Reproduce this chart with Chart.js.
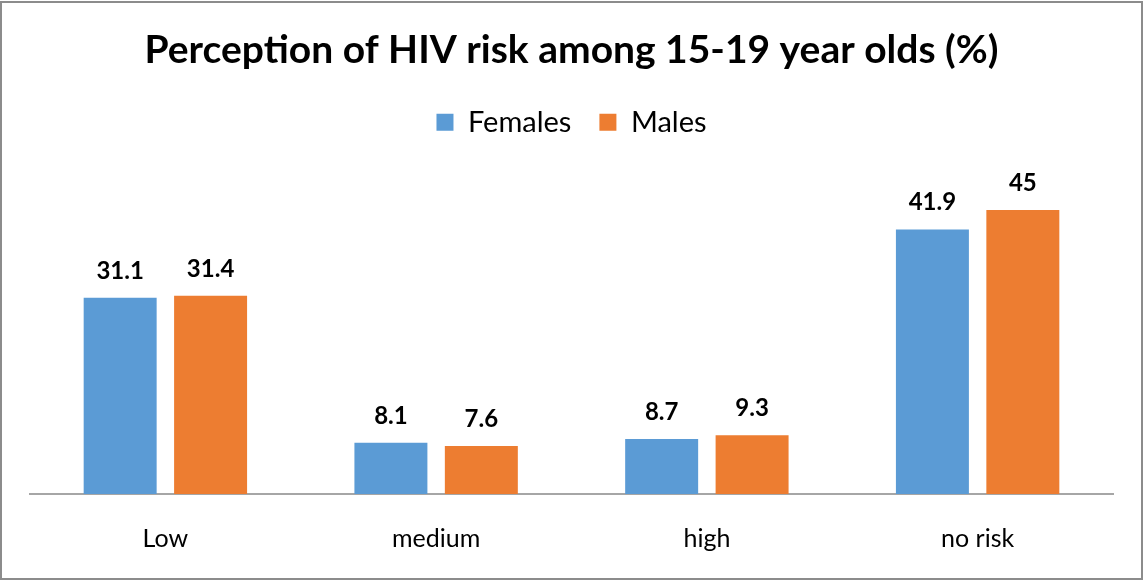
<!DOCTYPE html>
<html>
<head>
<meta charset="utf-8">
<script src="https://cdn.jsdelivr.net/npm/chart.js@4/dist/chart.umd.min.js"></script>
<style>
  html, body { margin: 0; padding: 0; background: #fff; }
  #wrap { position: relative; width: 1144px; height: 581px; }
</style>
</head>
<body>
<div id="wrap"><canvas id="grafico" width="1144" height="581"></canvas></div>
<script>
const categorias = ['Low', 'medium', 'high', 'no risk'];
const femininos = [31.1, 8.1, 8.7, 41.9];
const masculinos = [31.4, 7.6, 9.3, 45];
const tituloGrafico = 'Perception of HIV risk among 15-19 year olds (%)';

const fonte = 'Lato, "Liberation Sans", sans-serif';

// moldura cinza em volta do gráfico
const moldura = {
    id: 'moldura',
    beforeDraw(chart) {
        const c = chart.ctx;
        c.save();
        c.fillStyle = '#fff';
        c.fillRect(0, 0, chart.width, chart.height);
        c.strokeStyle = '#8c8c8c';
        c.lineWidth = 2;
        c.strokeRect(1, 2, chart.width - 3, chart.height - 4);
        c.restore();
    }
};

// rótulos de valor acima das barras
const rotulos = {
    id: 'rotulos',
    afterDatasetsDraw(chart) {
        const c = chart.ctx;
        c.save();
        c.font = 'bold 24px ' + fonte;
        c.fillStyle = '#000';
        c.textAlign = 'center';
        c.textBaseline = 'alphabetic';
        chart.data.datasets.forEach((ds, i) => {
            chart.getDatasetMeta(i).data.forEach((bar, j) => {
                c.fillText(String(ds.data[j]), bar.x, bar.y - 19);
            });
        });
        c.restore();
    }
};

const ctx = document.getElementById('grafico').getContext('2d');
const chart = new Chart(ctx, {
    type: 'bar',
    data: {
        labels: categorias,
        datasets: [{
            label: 'Females',
            data: femininos,
            backgroundColor: '#5b9bd5',
            borderWidth: 0
        }, {
            label: 'Males',
            data: masculinos,
            backgroundColor: '#ed7d31',
            borderWidth: 0
        }]
    },
    options: {
        responsive: false,
        animation: false,
        devicePixelRatio: 1,
        categoryPercentage: 0.668,
        barPercentage: 0.807,
        layout: {
            padding: { left: 30, right: 31, top: 10, bottom: 5 }
        },
        scales: {
            x: {
                grid: { display: false },
                border: { display: true, color: '#a6a6a6', width: 2 },
                ticks: {
                    color: '#000',
                    padding: 22,
                    font: { family: fonte, size: 25 }
                }
            },
            y: {
                display: false,
                min: 0,
                max: 55
            }
        },
        plugins: {
            title: {
                display: true,
                text: tituloGrafico,
                color: '#000',
                font: { family: fonte, size: 39, weight: 'bold' },
                padding: { top: 17, bottom: 6 }
            },
            legend: {
                position: 'top',
                labels: {
                    color: '#000',
                    boxWidth: 17,
                    boxHeight: 17,
                    padding: 28,
                    font: { family: fonte, size: 29 }
                }
            },
            tooltip: { enabled: false }
        }
    },
    plugins: [moldura, rotulos]
});
</script>
</body>
</html>
